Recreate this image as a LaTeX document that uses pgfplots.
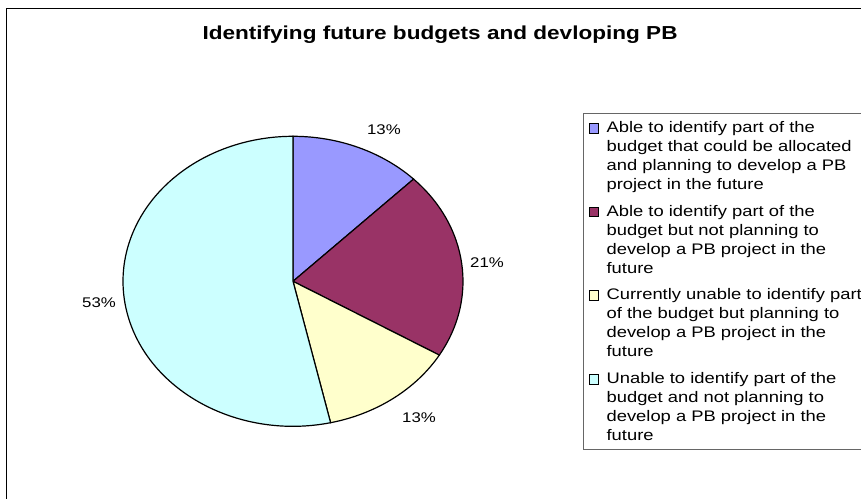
\documentclass[border=0pt]{standalone}
\usepackage{pgfplots}
\pgfplotsset{compat=1.18}
\usepackage{pgfplotstable}
\usepackage{fontspec}
\setmainfont{Liberation Sans}[FakeStretch=1.2]
\definecolor{cA}{HTML}{9999FF}
\definecolor{cB}{HTML}{993366}
\definecolor{cC}{HTML}{FFFFCC}
\definecolor{cD}{HTML}{CCFFFF}
\pgfplotstableread{
share
12.55
20.95
12.95
53.55
}\pietable
\pgfplotstablegetelem{0}{share}\of\pietable \let\vA\pgfplotsretval
\pgfplotstablegetelem{1}{share}\of\pietable \let\vB\pgfplotsretval
\pgfplotstablegetelem{2}{share}\of\pietable \let\vC\pgfplotsretval
\pgfplotstablegetelem{3}{share}\of\pietable \let\vD\pgfplotsretval
\pgfmathsetmacro\aO{90}
\pgfmathsetmacro\aA{\aO-3.6*\vA}
\pgfmathsetmacro\aB{\aA-3.6*\vB}
\pgfmathsetmacro\aC{\aB-3.6*\vC}
\pgfmathsetmacro\aD{\aC-3.6*\vD}
\pgfplotsset{sq/.style={legend image code/.code={\draw[fill=#1,draw=black,line width=0.6pt] (0pt,56.5pt) rectangle (9.5pt,66pt);}}}
\begin{document}
\begin{tikzpicture}
\useasboundingbox (0,0) rectangle (861pt,498pt);
\clip (0,0) rectangle (861pt,498pt);
\draw[line width=1.5pt] (6.5pt,-5pt) -- (6.5pt,489.5pt) -- (870pt,489.5pt);
\node[font=\bfseries\fontsize{18.8pt}{22pt}\selectfont] at (440pt,463pt) {Identifying future budgets and devloping PB};
\begin{axis}[
  at={(293pt,216.7pt)}, anchor=origin,
  x=170pt, y=145pt,
  xmin=-1, xmax=3, ymin=-1.5, ymax=1.5,
  hide axis, clip=false,
  legend style={at={(0.6765,0.8869)}, anchor=north west,
    draw=black!60, line width=1pt, fill=white,
    font=\fontsize{15.3pt}{19pt}\selectfont,
    row sep=10pt, column sep=6pt, inner xsep=5pt, inner ysep=6pt,
    cells={anchor=base west, align=left}},
]
\addlegendimage{sq=cA}
\addlegendentry{Able to identify part of the\\budget that could be allocated\\and planning to develop a PB\\project in the future}
\addlegendimage{sq=cB}
\addlegendentry{Able to identify part of the\\budget but not planning to\\develop a PB project in the\\future}
\addlegendimage{sq=cC}
\addlegendentry{Currently unable to identify part\\of the budget but planning to\\develop a PB project in the\\future\hspace*{40pt}}
\addlegendimage{sq=cD}
\addlegendentry{Unable to identify part of the\\budget and not planning to\\develop a PB project in the\\future}
\fill[cA, draw=black, line width=1.2pt] (axis cs:0,0) -- (axis cs:{cos(\aO)},{sin(\aO)}) arc[start angle=\aO, end angle=\aA, x radius=170pt, y radius=145pt] -- cycle;
\fill[cB, draw=black, line width=1.2pt] (axis cs:0,0) -- (axis cs:{cos(\aA)},{sin(\aA)}) arc[start angle=\aA, end angle=\aB, x radius=170pt, y radius=145pt] -- cycle;
\fill[cC, draw=black, line width=1.2pt] (axis cs:0,0) -- (axis cs:{cos(\aB)},{sin(\aB)}) arc[start angle=\aB, end angle=\aC, x radius=170pt, y radius=145pt] -- cycle;
\fill[cD, draw=black, line width=1.2pt] (axis cs:0,0) -- (axis cs:{cos(\aC)},{sin(\aC)}) arc[start angle=\aC, end angle=\aD, x radius=170pt, y radius=145pt] -- cycle;
\node[font=\fontsize{14pt}{16pt}\selectfont] at (axis cs:0.535,1.043) {13\%};
\node[font=\fontsize{14pt}{16pt}\selectfont] at (axis cs:1.141,0.128) {21\%};
\node[font=\fontsize{14pt}{16pt}\selectfont] at (axis cs:0.741,-0.943) {13\%};
\node[font=\fontsize{14pt}{16pt}\selectfont] at (axis cs:-1.141,-0.148) {53\%};
\end{axis}
\end{tikzpicture}
\end{document}
